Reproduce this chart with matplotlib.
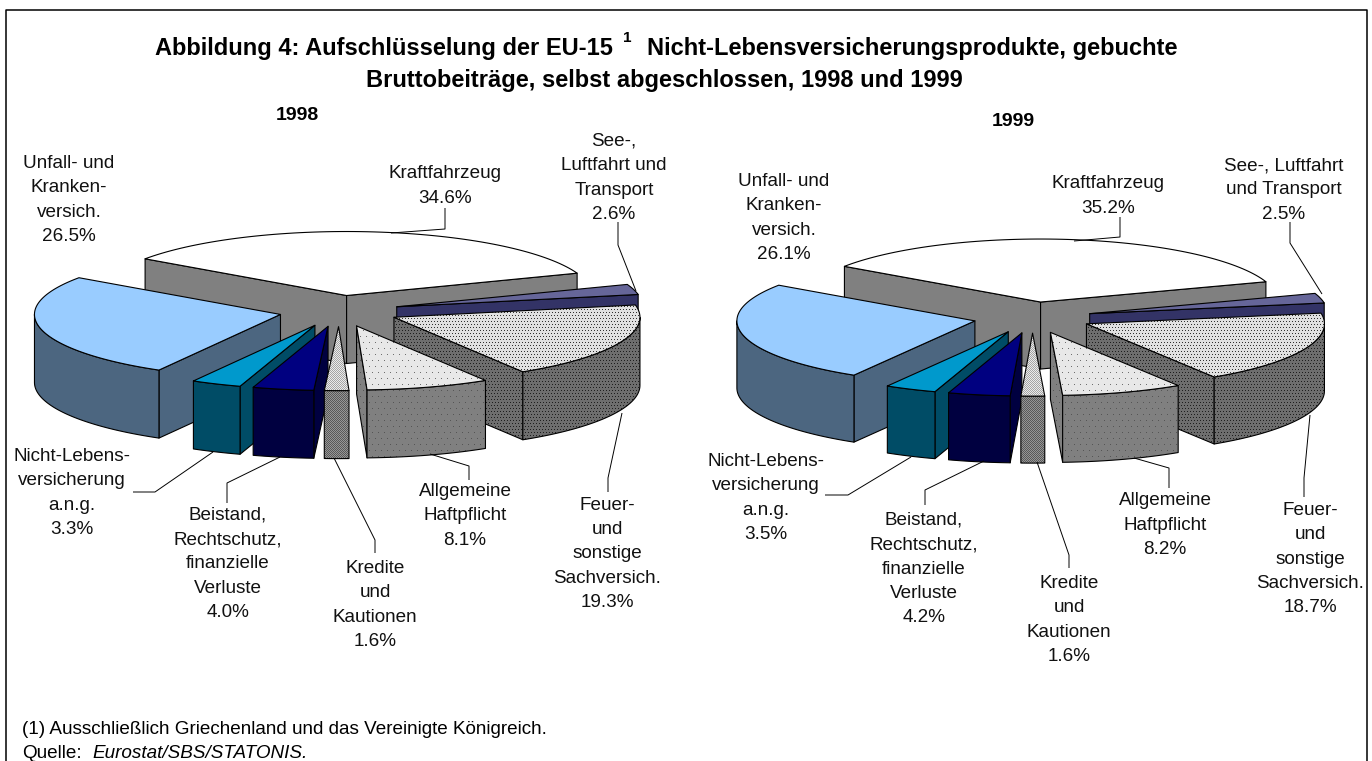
# -*- coding: utf-8 -*-
import numpy as np
import matplotlib
matplotlib.use("Agg")
import matplotlib.pyplot as plt
from matplotlib.patches import Polygon

plt.rcParams['font.family'] = ['Liberation Sans', 'DejaVu Sans']

#%% data
categories = ["Kraftfahrzeug", "See-, Luftfahrt und Transport", "Feuer- und sonstige Sachversich.",
              "Allgemeine Haftpflicht", "Kredite und Kautionen", "Beistand, Rechtschutz, finanzielle Verluste",
              "Nicht-Lebensversicherung a.n.g.", "Unfall- und Krankenversich."]
values_1998 = [34.6, 2.6, 19.3, 8.1, 1.6, 4.0, 3.3, 26.5]
values_1999 = [35.2, 2.5, 18.7, 8.2, 1.6, 4.2, 3.5, 26.1]

label_text_1998 = ["Kraftfahrzeug", "See-,\nLuftfahrt und\nTransport", "Feuer-\nund\nsonstige\nSachversich.",
                   "Allgemeine\nHaftpflicht", "Kredite\nund\nKautionen", "Beistand,\nRechtschutz,\nfinanzielle\nVerluste",
                   "Nicht-Lebens-\nversicherung\na.n.g.", "Unfall- und\nKranken-\nversich."]
label_text_1999 = ["Kraftfahrzeug", "See-, Luftfahrt\nund Transport", "Feuer-\nund\nsonstige\nSachversich.",
                   "Allgemeine\nHaftpflicht", "Kredite\nund\nKautionen", "Beistand,\nRechtschutz,\nfinanzielle\nVerluste",
                   "Nicht-Lebens-\nversicherung\na.n.g.", "Unfall- und\nKranken-\nversich."]

# label centre (x, y) in picture pixels, same order as categories
label_pos_1998 = [(445, 186), (614, 178), (607, 554), (465, 516), (375, 605), (228, 564), (72, 493), (69, 200)]
label_pos_1999 = [(1108, 196), (1284, 190), (1310, 559), (1165, 525), (1069, 620), (924, 569), (766, 498), (784, 218)]

leaders_1998 = [[(445, 208), (445, 229), (391, 233)], [(618, 222), (618, 245), (636, 291)],
                [(622, 413), (608, 478), (608, 492)], [(430, 454), (469, 466), (469, 480)],
                [(334, 458), (375, 540), (375, 553)], [(280, 457), (227, 483), (227, 503)],
                [(213, 452), (155, 492), (133, 492)]]
leaders_1999 = [[(1120, 217), (1120, 237), (1074, 241)], [(1290, 222), (1290, 243), (1322, 294)],
                [(1310, 415), (1304, 478), (1304, 497)], [(1134, 458), (1169, 468), (1169, 488)],
                [(1037, 462), (1069, 555), (1069, 568)], [(984, 461), (925, 490), (925, 505)],
                [(911, 457), (848, 495), (825, 495)]]

top_colors = ["#ffffff", "#666699", None, None, None, "#000080", "#0099cc", "#99ccff"]
side_colors = ["#808080", "#333366", None, None, None, "#000040", "#004c66", "#4c6680"]

#%% textures for the dotted slices
W, H = 1372, 761

def stipple(bg, fg, step):
    yy, xx = np.mgrid[0:H, 0:W]
    row = yy // step
    on = ((yy % step) == 0) & (((xx + (row % 2) * (step // 2)) % step) == 0)
    return np.where(on, fg, bg).astype(float)

def checker(bg, fg):
    yy, xx = np.mgrid[0:H, 0:W]
    return np.where((xx + yy) % 2 == 0, fg, bg).astype(float)

textures_top = {2: stipple(225, 50, 3), 3: stipple(232, 110, 6), 4: checker(235, 165)}
textures_side = {2: stipple(110, 30, 3), 3: stipple(128, 85, 6), 4: checker(150, 90)}

#%%
fig = plt.figure(figsize=(13.72, 7.61), dpi=100)
ax = fig.add_axes([0, 0, 1, 1])
zo = [2]

def face(pts, color, texture=None):
    zo[0] += 1
    poly = Polygon(pts, closed=True, facecolor=color if color else 'none', edgecolor='black',
                   linewidth=0.8, joinstyle='round', zorder=zo[0] + 0.5)
    ax.add_patch(poly)
    if texture is not None:
        im = ax.imshow(texture, cmap='gray', vmin=0, vmax=255, extent=(0, W, H, 0),
                       interpolation='nearest', zorder=zo[0])
        poly.set_facecolor('none')
        im.set_clip_path(poly)

def draw_pie(values, cx, cy, start, rx=246, ry=64, depth=68, expl=60):
    # clockwise from the start angle, angles in degrees
    sweep = np.array(values) / sum(values) * 360
    ends = start - np.cumsum(sweep)
    starts = ends + sweep
    mids = (starts + ends) / 2
    # back to front
    for i in [0, 1, 7, 2, 3, 6, 5, 4]:
        a, b = starts[i], ends[i]
        m = np.radians(mids[i])
        ox = cx + expl * np.cos(m)
        oy = cy - expl * ry / rx * np.sin(m)
        t = np.radians(np.linspace(a, b, 80))
        rim = np.column_stack([ox + rx * np.cos(t), oy - ry * np.sin(t)])
        tex_t = textures_top.get(i)
        tex_s = textures_side.get(i)
        apex = np.array([ox, oy])
        down = np.array([0, depth])
        # radial walls that face the viewer
        if np.cos(np.radians(a)) < 0:
            face([apex, rim[0], rim[0] + down, apex + down], side_colors[i], tex_s)
        if np.cos(np.radians(b)) > 0:
            face([apex, rim[-1], rim[-1] + down, apex + down], side_colors[i], tex_s)
        # front of the rim
        lo, hi = max(b, -180), min(a, 0)
        if hi > lo:
            tf = np.radians(np.linspace(hi, lo, 60))
            front = np.column_stack([ox + rx * np.cos(tf), oy - ry * np.sin(tf)])
            face(np.vstack([front, (front + down)[::-1]]), side_colors[i], tex_s)
        face(np.vstack([apex, rim]), top_colors[i], tex_t)

def draw_labels(texts, values, positions, leaders):
    for txt, v, (x, y) in zip(texts, values, positions):
        ax.text(x, y, "%s\n%.1f%%" % (txt, v), ha='center', va='center', multialignment='center',
                fontsize=13.6, linespacing=1.57, color='#111111', zorder=100)
    for pts in leaders:
        pts = np.array(pts)
        ax.plot(pts[:, 0], pts[:, 1], color='black', lw=0.7, zorder=99, solid_capstyle='butt')

draw_pie(values_1998, 339, 311, 145.0)
draw_pie(values_1999, 1032.5, 317.5, 145.5, rx=238, ry=63, depth=67, expl=59)
draw_labels(label_text_1998, values_1998, label_pos_1998, leaders_1998)
draw_labels(label_text_1999, values_1999, label_pos_1999, leaders_1999)

# frame
ax.plot([6, 6, 1367, 1367], [770, 10, 10, 770], color='black', lw=1.1, zorder=101)

# title
ax.text(155, 48, "Abbildung 4: Aufschlüsselung der EU-15", ha='left', va='center', fontsize=17, fontweight='bold')
ax.text(627, 38, "1", ha='center', va='center', fontsize=11, fontweight='bold')
ax.text(647, 48, "Nicht-Lebensversicherungsprodukte, gebuchte", ha='left', va='center', fontsize=17, fontweight='bold')
ax.text(664, 80, "Bruttobeiträge, selbst abgeschlossen, 1998 und 1999", ha='center', va='center',
        fontsize=17, fontweight='bold')
ax.text(297, 115, "1998", ha='center', va='center', fontsize=14, fontweight='bold')
ax.text(1013, 122, "1999", ha='center', va='center', fontsize=14, fontweight='bold')

# notes
ax.text(22, 730, "(1) Ausschließlich Griechenland und das Vereinigte Königreich.", ha='left', va='center', fontsize=13.6)
ax.text(22, 753, "Quelle:", ha='left', va='center', fontsize=13.6)
ax.text(92, 753, "Eurostat/SBS/STATONIS.", ha='left', va='center', fontsize=13.6, style='italic')

ax.set_xlim(0, W)
ax.set_ylim(H, 0)
ax.set_aspect('auto')
ax.axis('off')
fig.savefig("out.png", dpi=100)
